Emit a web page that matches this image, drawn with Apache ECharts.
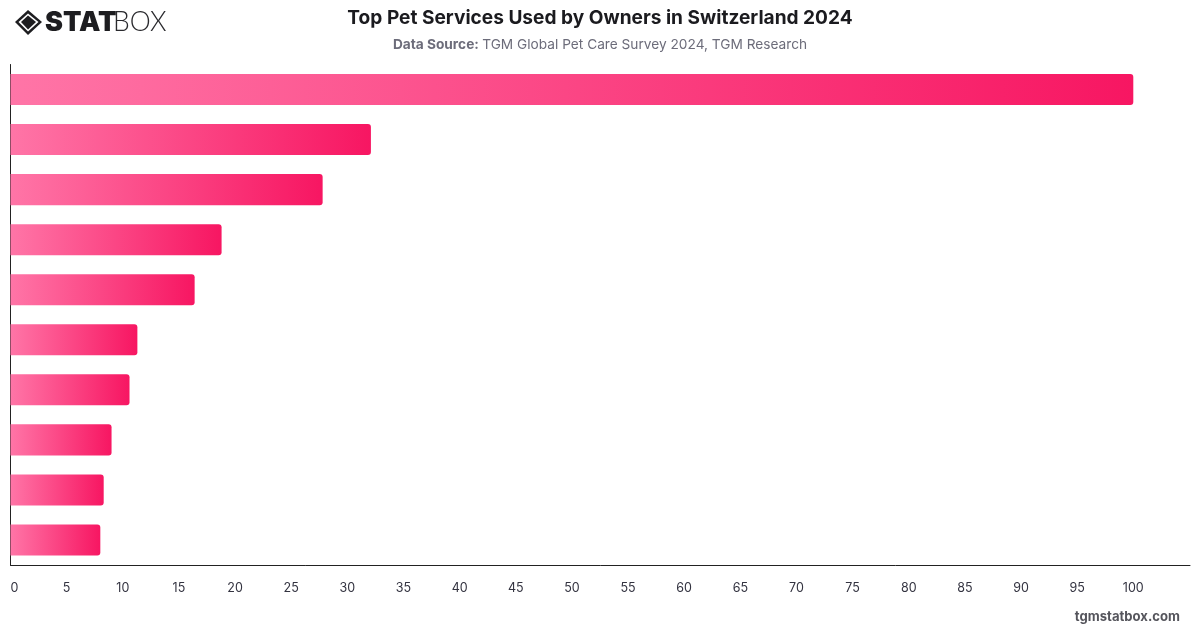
<!DOCTYPE html>
<html>
<head>
<meta charset="utf-8">
<script src="https://cdn.jsdelivr.net/npm/echarts@6/dist/echarts.min.js"></script>
<style>
html,body{margin:0;padding:0;background:#fff}
#chart{width:1200px;height:628px}
</style>
</head>
<body>
<div id="chart"></div>
<script>
// Ranked services, largest first; the axis labels for them are not displayed.
const services = ['Rank 1','Rank 2','Rank 3','Rank 4','Rank 5','Rank 6','Rank 7','Rank 8','Rank 9','Rank 10'];
const usageShare = [100, 32.1, 27.8, 18.8, 16.4, 11.3, 10.6, 9.0, 8.3, 8.0];
const AXIS_MAX = 105.05;
const TICK_STEP = 5;
const LAST_LABEL = 100;

const FONT = 'Inter, "Liberation Sans", sans-serif';
const chart = echarts.init(document.getElementById('chart'), null, {renderer: 'canvas'});

chart.setOption({
  animation: false,
  backgroundColor: '#ffffff',
  title: {
    text: 'Top Pet Services Used by Owners in Switzerland 2024',
    left: 'center',
    top: 4,
    textStyle: {fontFamily: FONT, fontSize: 19.1, fontWeight: 700, color: '#1b1b1f'},
    subtext: '{b|Data Source:} {r|TGM Global Pet Care Survey 2024, TGM Research}',
    itemGap: 10,
    subtextStyle: {
      rich: {
        b: {fontFamily: FONT, fontSize: 13.7, fontWeight: 700, color: '#6c6c7a'},
        r: {fontFamily: FONT, fontSize: 13.7, fontWeight: 400, color: '#6c6c7a'}
      }
    }
  },
  grid: {left: 10.5, right: 10, top: 64.5, bottom: 63, containLabel: false},
  xAxis: {
    type: 'value',
    min: 0,
    max: AXIS_MAX,
    interval: TICK_STEP,
    splitLine: {show: false},
    axisTick: {show: false},
    axisLine: {show: true, lineStyle: {color: '#222222', width: 1}},
    axisLabel: {
      fontFamily: FONT,
      fontSize: 12.5,
      color: '#333340',
      margin: 16.5,
      alignMinLabel: 'left',
      formatter: v => (v <= LAST_LABEL ? String(v) : '')
    }
  },
  yAxis: {
    type: 'category',
    inverse: true,
    data: services,
    axisLabel: {show: false},
    axisTick: {show: false},
    axisLine: {show: true, lineStyle: {color: '#222222', width: 1}}
  },
  series: [{
    type: 'bar',
    data: usageShare,
    barCategoryGap: '38%',
    itemStyle: {
      borderRadius: [0, 3, 3, 0],
      color: new echarts.graphic.LinearGradient(0, 0, 1, 0, [
        {offset: 0, color: '#ff75a7'},
        {offset: 1, color: '#f71662'}
      ])
    }
  }],
  graphic: [
    // Wordmark: diamond emblem followed by the STAT/BOX lettering
    {type: 'polygon', shape: {points: [[28,10],[42,22],[28,35],[15,22]]}, style: {fill: '#1d1d20'}},
    {type: 'polygon', shape: {points: [[28,13.5],[38.5,22],[28,31.5],[18.5,22]]}, style: {fill: '#ffffff'}},
    {type: 'polygon', shape: {points: [[28,15.5],[36,22],[28,29.5],[21,22]]}, style: {fill: '#1d1d20'}},
    {type: 'text', left: 45, top: 9, style: {text: 'STAT', fontFamily: 'Inter', fontWeight: 900, fontSize: 27, fill: '#1d1d20'}},
    {type: 'text', left: 113, top: 9, style: {text: 'BOX', fontFamily: 'Lato', fontWeight: 300, fontSize: 26.5, fill: '#2a2a2e'}},
    {type: 'text', right: 20, top: 611, style: {text: 'tgmstatbox.com', fontFamily: FONT, fontWeight: 700, fontSize: 13.1, fill: '#55555c'}}
  ]
});
</script>
</body>
</html>
